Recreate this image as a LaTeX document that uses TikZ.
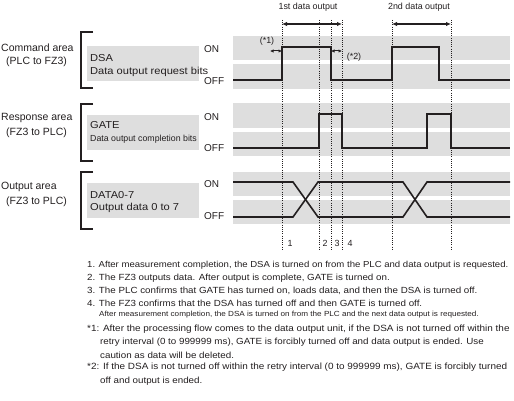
\documentclass[tikz,border=0pt]{standalone}
\usepackage{fontspec}
\setmainfont{Liberation Sans}
\newfontfamily\widefont[FakeStretch=1.1]{Liberation Sans}
\usetikzlibrary{arrows.meta}
\definecolor{band}{HTML}{DEDEDE}
\definecolor{ink}{HTML}{231F20}
\tikzset{
  txt/.style={inner sep=0pt, anchor=west, text=ink},
  arealbl/.style={txt, font=\fontsize{10.5}{12}\selectfont},
  boxlbl/.style={txt, font=\widefont\fontsize{10.1}{12}\selectfont},
  onoff/.style={txt, font=\fontsize{10}{12}\selectfont},
  smalllbl/.style={txt, font=\fontsize{8.8}{10}\selectfont},
  note/.style={txt, font=\widefont\fontsize{8.9}{10}\selectfont},
  notenarrow/.style={txt, font=\widefont\fontsize{8.7}{10}\selectfont},
  notewide/.style={txt, font=\widefont\fontsize{9.05}{10}\selectfont},
  notesmall/.style={txt, font=\widefont\fontsize{7.4}{9}\selectfont},
  ctr/.style={inner sep=0pt, text=ink, font=\fontsize{8.9}{10}\selectfont},
  sig/.style={draw=ink, line width=1.6pt, line join=miter},
  brk/.style={draw=ink, line width=2.4pt},
  guide/.style={draw=ink, line width=0.8pt, dash pattern=on 1pt off 1.2pt},
  span/.style={draw=ink, line width=1.8pt, {Latex[length=5pt,width=4.5pt]}-{Latex[length=5pt,width=4.5pt]}},
  tiny/.style={draw=ink, line width=1pt, {Latex[length=3.5pt,width=3.5pt]}-{Latex[length=3.5pt,width=3.5pt]}},
  lblbox/.style={fill=band, draw=none}
}
\begin{document}
\begin{tikzpicture}[x=1pt,y=-1pt]
\useasboundingbox (0,0) rectangle (514,401);

% gray bands
\foreach \a/\b in {36/60,64/89,103/128,132/156,172/196,200/224}
  \fill[band] (233,\a) rectangle (510,\b);

% label boxes
\fill[lblbox] (87,46) rectangle (199,81);
\fill[lblbox] (87,115) rectangle (199,150);
\fill[lblbox] (87,183) rectangle (199,218);

% brackets
\draw[brk] (93,32) -- (81,32) -- (81,88) -- (93,88);
\draw[brk] (93,104) -- (81,104) -- (81,161) -- (93,161);
\draw[brk] (93,172) -- (81,172) -- (81,229) -- (93,229);

% area labels
\node[arealbl] (cmdA) at (1,48) {Command area};
\node[arealbl] (cmdB) at (6,62) {(PLC to FZ3)};
\node[arealbl] (rspA) at (1,118) {Response area};
\node[arealbl] (rspB) at (6,133) {(FZ3 to PLC)};
\node[arealbl] (outA) at (1,187) {Output area};
\node[arealbl] (outB) at (6,202) {(FZ3 to PLC)};

% box texts
\node[boxlbl] (dsa) at (90,58) {DSA};
\node[boxlbl] (dsaD) at (90,72) {Data output request bits};
\node[boxlbl] (gate) at (90,125) {GATE};
\node[smalllbl] (gateD) at (90,139) {Data output completion bits};
\node[boxlbl] (data) at (90,195) {DATA0-7};
\node[boxlbl] (dataD) at (90,208) {Output data 0 to 7};

% ON / OFF
\node[onoff] (on1) at (204,49) {ON};
\node[onoff] (off1) at (204,81) {OFF};
\node[onoff] (on2) at (204,117) {ON};
\node[onoff] (off2) at (204,148) {OFF};
\node[onoff] (on3) at (204,184) {ON};
\node[onoff] (off3) at (204,216) {OFF};

% guide lines
\foreach \x/\n in {282/g1,319/g2,331/g3,342/g4,392/g5,451/g6}{
  \coordinate (\n t) at (\x,20);
  \coordinate (\n b) at (\x,250);
  \draw[guide] (\n t) -- (\n b);
}

% signals
\draw[sig] (233,80) -- (282,80) -- (282,47) -- (331,47) -- (331,80) -- (392,80) -- (392,47) -- (439,47) -- (439,80) -- (510,80);
\draw[sig] (233,148) -- (319,148) -- (319,114) -- (342,114) -- (342,148) -- (427,148) -- (427,114) -- (451,114) -- (451,148) -- (510,148);
\draw[sig] (233,182) -- (293,182) -- (318,217) -- (403,217) -- (427,182) -- (510,182);
\draw[sig] (233,217) -- (293,217) -- (318,182) -- (403,182) -- (427,217) -- (510,217);

% top spans
\coordinate (s1a) at (282,24); \coordinate (s1b) at (342,24);
\coordinate (s2a) at (392,24); \coordinate (s2b) at (451,24);
\draw[span] (s1a) -- (s1b);
\draw[span] (s2a) -- (s2b);
\node[ctr] (first) at (308,7) {1st data output};
\node[ctr] (second) at (419,7) {2nd data output};

% (*1) (*2)
\coordinate (t1a) at (270,51); \coordinate (t1b) at (282,51);
\coordinate (t2a) at (331,51); \coordinate (t2b) at (342,51);
\draw[tiny] (t1a) -- (t1b);
\draw[tiny] (t2a) -- (t2b);
\node[ctr] (n1) at (267,41) {(*1)};
\node[ctr] (n2) at (354,57) {(*2)};

% step numbers
\node[ctr] (k1) at (290,243) {1};
\node[ctr] (k2) at (325,243) {2};
\node[ctr] (k3) at (337,243) {3};
\node[ctr] (k4) at (350,243) {4};

% notes
\node[notenarrow] (l1) at (87,265) {1. After measurement completion, the DSA is turned on from the PLC and data output is requested.};
\node[note] (l2) at (87,278) {2. The FZ3 outputs data. After output is complete, GATE is turned on.};
\node[note] (l3) at (87,291) {3. The PLC confirms that GATE has turned on, loads data, and then the DSA is turned off.};
\node[note] (l4) at (87,303) {4. The FZ3 confirms that the DSA has turned off and then GATE is turned off.};
\node[notesmall] (l5) at (99,315) {After measurement completion, the DSA is turned on from the PLC and the next data output is requested.};
\node[notewide] (l6) at (87,329) {*1: After the processing flow comes to the data output unit, if the DSA is not turned off within the};
\node[note] (l7) at (100,342) {retry interval (0 to 999999 ms), GATE is forcibly turned off and data output is ended. Use};
\node[note] (l8) at (100,355) {caution as data will be deleted.};
\node[notewide] (l9) at (87,367) {*2: If the DSA is not turned off within the retry interval (0 to 999999 ms), GATE is forcibly turned};
\node[note] (l10) at (100,381) {off and output is ended.};
\end{tikzpicture}
\end{document}
